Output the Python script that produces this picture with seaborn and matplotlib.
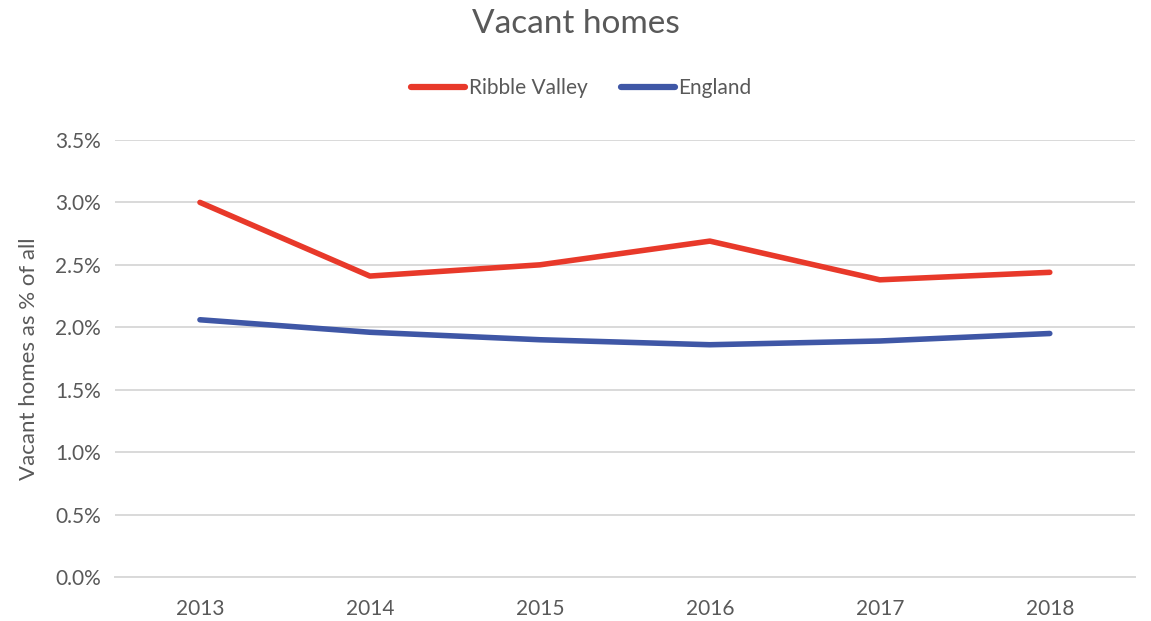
import pandas as pd
import matplotlib.pyplot as plt
import seaborn as sns

# Values (percent of all homes)
years = ['2013', '2014', '2015', '2016', '2017', '2018']
ribble_valley = [3.00, 2.41, 2.50, 2.69, 2.38, 2.44]
england = [2.06, 1.96, 1.90, 1.86, 1.89, 1.95]
series_names = ['Ribble Valley', 'England']
y_ticks = [0.0, 0.5, 1.0, 1.5, 2.0, 2.5, 3.0, 3.5]

df = pd.DataFrame({
    'Year': years * 2,
    'Value': ribble_valley + england,
    'Series': [series_names[0]] * len(years) + [series_names[1]] * len(years),
})

sns.set_style('white')
plt.rcParams['font.family'] = ['Lato', 'DejaVu Sans']
text_grey = '#595959'

fig = plt.figure(figsize=(11.51, 6.21), dpi=100)
ax = fig.add_axes([0.0999, 0.0709, 0.886, 0.7037])

sns.lineplot(data=df, x='Year', y='Value', hue='Series', sort=False,
             palette={'Ribble Valley': '#E8392A', 'England': '#3F57A6'},
             linewidth=4.0, ax=ax, legend=False)

ax.set_xlim(-0.5, len(years) - 0.5)
ax.set_ylim(0, 3.5)
ax.set_yticks(y_ticks)
ax.set_yticklabels([f'{v:.1f}%' for v in y_ticks])
ax.yaxis.grid(True, color='#D9D9D9', linewidth=1.4)
ax.set_axisbelow(True)
for side in ['top', 'right', 'left']:
    ax.spines[side].set_visible(False)
ax.spines['bottom'].set_color('#D9D9D9')
ax.spines['bottom'].set_linewidth(1.4)
ax.tick_params(axis='both', length=0, labelsize=15, colors=text_grey)
ax.tick_params(axis='x', pad=16)
ax.tick_params(axis='y', pad=10)
ax.set_xlabel('')
ax.set_ylabel('Vacant homes as % of all', fontsize=16, color=text_grey, labelpad=12)

fig.suptitle('Vacant homes', y=0.985, fontsize=24, color=text_grey)

handles = [plt.Line2D([], [], color=c, linewidth=4.5, solid_capstyle='round')
           for c in ['#E8392A', '#3F57A6']]
leg = fig.legend(handles, series_names, loc='center', bbox_to_anchor=(0.505, 0.858),
                 ncol=2, frameon=False, fontsize=15, handlelength=2.6,
                 handletextpad=0.15, columnspacing=1.6)
for t in leg.get_texts():
    t.set_color(text_grey)

plt.savefig('out.png', dpi=100)
